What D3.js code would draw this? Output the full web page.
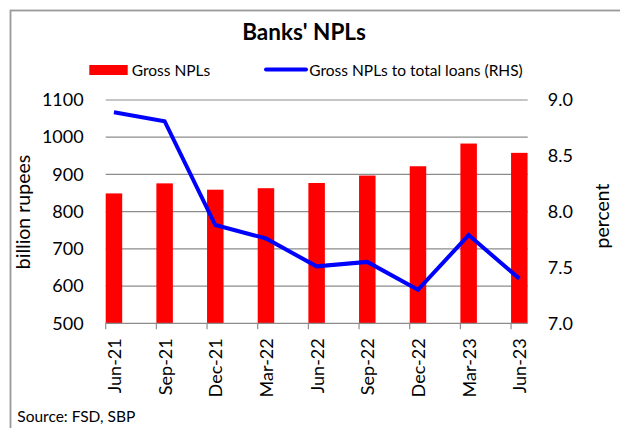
<!DOCTYPE html>
<html><head><meta charset="utf-8">
<script src="https://cdn.jsdelivr.net/npm/d3@7"></script>
<style>body{margin:0;background:#fff}svg{display:block}text{font-family:Lato,"Open Sans",sans-serif;fill:#000}</style>
</head><body>
<svg id="c" width="620" height="428"></svg>
<script>
const categories = ["Jun-21","Sep-21","Dec-21","Mar-22","Jun-22","Sep-22","Dec-22","Mar-23","Jun-23"];
const grossNPLs = [849, 876, 859, 863, 877, 897, 922, 983, 958];
const nplRatio = [8.89, 8.81, 7.88, 7.76, 7.51, 7.55, 7.30, 7.79, 7.40];
const leftTicks = [500,600,700,800,900,1000,1100];
const rightTicks = [7.0,7.5,8.0,8.5,9.0];

const svg = d3.select("#c");
const L = 105.7, R = 527.7, T = 100, B = 323.3, step = 50.67, barW = 16.5;

svg.append("rect").attr("x",10.5).attr("y",10.5).attr("width",640).attr("height",440)
  .attr("fill","none").attr("stroke","#9a9a9a").attr("stroke-width",1.8);

const x = d3.scaleBand().domain(categories).range([L, L+step*categories.length]).padding(0);
const yL = d3.scaleLinear().domain([500,1100]).range([B,T]);
const yR = d3.scaleLinear().domain([7,9]).range([B,T]);

// gridlines
svg.append("g").selectAll("line").data(leftTicks.slice(1)).join("line")
  .attr("x1",L).attr("x2",R).attr("y1",d=>yL(d)).attr("y2",d=>yL(d))
  .attr("stroke","#8c8c8c").attr("stroke-width",1.2);

// bars
svg.append("g").selectAll("rect").data(categories).join("rect")
  .attr("x",d=>x(d)).attr("width",barW)
  .attr("y",(d,i)=>yL(grossNPLs[i])).attr("height",(d,i)=>B-yL(grossNPLs[i]))
  .attr("fill","#ff0000");

// x axis
const gx = svg.append("g");
gx.append("line").attr("x1",L).attr("x2",R).attr("y1",B).attr("y2",B).attr("stroke","#8c8c8c").attr("stroke-width",1.2);
gx.selectAll("line.t").data(categories).join("line").attr("class","t")
  .attr("x1",d=>x(d)).attr("x2",d=>x(d)).attr("y1",B).attr("y2",B+6)
  .attr("stroke","#8c8c8c").attr("stroke-width",1.2);
gx.selectAll("text").data(categories).join("text")
  .attr("transform",d=>`translate(${x(d)+barW/2+7},${B+15}) rotate(-90)`)
  .attr("text-anchor","end").attr("font-size",18).text(d=>d);

// left axis
const ga = svg.append("g").attr("transform",`translate(${L},0)`)
  .call(d3.axisLeft(yL).tickValues(leftTicks).tickFormat(d3.format("d")).tickSize(0).tickPadding(22));
ga.select(".domain").remove();
ga.selectAll("text").attr("font-size",18).attr("font-family","Lato").attr("fill","#000");

// right axis
const gr = svg.append("g").attr("transform",`translate(${R},0)`)
  .call(d3.axisRight(yR).tickValues(rightTicks).tickFormat(d3.format(".1f")).tickSize(0).tickPadding(20));
gr.select(".domain").remove();
gr.selectAll("text").attr("font-size",18).attr("font-family","Lato").attr("fill","#000");

// line
const line = d3.line().x((d,i)=>x(categories[i])+barW/2).y(d=>yR(d));
svg.append("path").datum(nplRatio).attr("d",line)
  .attr("fill","none").attr("stroke","#0000ff").attr("stroke-width",4);

// axis titles
svg.append("text").attr("transform","translate(30,212) rotate(-90)").attr("text-anchor","middle")
  .attr("font-size",19.5).text("billion rupees");
svg.append("text").attr("transform","translate(609,216) rotate(-90)").attr("text-anchor","middle")
  .attr("font-size",19.5).text("percent");

// title
svg.append("text").attr("x",304).attr("y",39.5).attr("text-anchor","middle")
  .attr("font-size",22.5).attr("font-weight","bold").text("Banks' NPLs");

// legend
svg.append("rect").attr("x",89.3).attr("y",65).attr("width",38.4).attr("height",10).attr("fill","#ff0000");
svg.append("text").attr("x",131.7).attr("y",75.5).attr("font-size",15.5).text("Gross NPLs");
svg.append("line").attr("x1",266).attr("x2",306).attr("y1",69.5).attr("y2",69.5)
  .attr("stroke","#0000ff").attr("stroke-width",4).attr("stroke-linecap","round");
svg.append("text").attr("x",309.3).attr("y",75.5).attr("font-size",15.5).text("Gross NPLs to total loans (RHS)");

// source
svg.append("text").attr("x",17.3).attr("y",422).attr("font-size",15.5).text("Source: FSD, SBP");
</script>
</body></html>
